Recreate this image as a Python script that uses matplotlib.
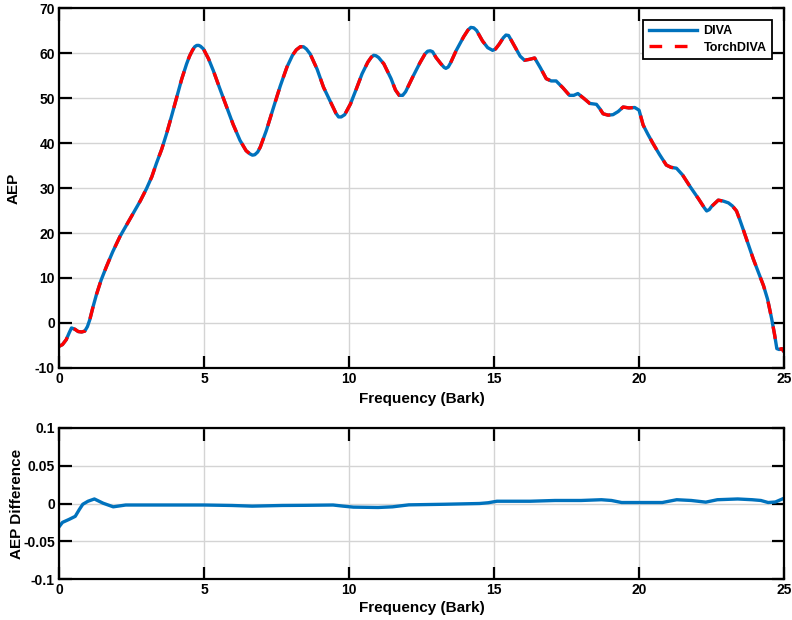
import matplotlib
matplotlib.use("Agg")
import matplotlib.pyplot as plt

plt.rcParams['font.family'] = ['Liberation Sans', 'DejaVu Sans']
plt.rcParams['font.weight'] = 'bold'
plt.rcParams['axes.unicode_minus'] = False

# AEP curve (Bark, AEP)
bark = [0.0, 0.12, 0.25, 0.35, 0.43, 0.55, 0.66, 0.78, 0.89, 0.98, 1.06, 1.17,
        1.29, 1.45, 1.64, 1.85, 2.1, 2.33, 2.56, 2.8, 3.02, 3.2, 3.36, 3.54,
        3.71, 3.89, 4.06, 4.23, 4.4, 4.5, 4.6, 4.68, 4.75, 4.82, 4.88, 4.98, 5.15,
        5.32, 5.55, 5.78, 6.0, 6.24, 6.45, 6.58, 6.67, 6.75, 6.85, 6.94, 7.15,
        7.4, 7.63, 7.86, 8.05, 8.18, 8.32, 8.43, 8.53, 8.66, 8.9, 9.12, 9.4,
        9.55, 9.64, 9.73, 9.85, 10.05, 10.25, 10.45, 10.65, 10.77, 10.85, 10.93,
        11.02, 11.2, 11.45, 11.6, 11.73, 11.85, 11.95, 12.19, 12.45, 12.62, 12.71,
        12.8, 12.88, 13.0, 13.17, 13.28, 13.34, 13.42, 13.5, 13.69, 13.95, 14.1,
        14.2, 14.3, 14.4, 14.6, 14.78, 14.95, 15.05, 15.18, 15.32, 15.41, 15.5,
        15.58, 15.76, 15.9, 16.05, 16.22, 16.4, 16.6, 16.8, 16.97, 17.14, 17.37,
        17.6, 17.75, 17.89, 18.1, 18.3, 18.42, 18.53, 18.65, 18.76, 18.93, 19.1,
        19.28, 19.45, 19.65, 19.85, 20.0, 20.14, 20.3, 20.48, 20.7, 20.94, 21.1,
        21.29, 21.5, 21.75, 22.05, 22.25, 22.33, 22.42, 22.5, 22.73, 22.9, 23.08,
        23.22, 23.36, 23.47, 23.59, 23.77, 23.94, 24.1, 24.29, 24.43, 24.57,
        24.67, 24.75, 24.83, 24.92, 25.0]
aep = [-5.2, -4.8, -3.7, -2.2, -1.1, -1.4, -1.9, -2.0, -1.8, -0.8, 0.7, 3.5,
       6.3, 9.5, 12.6, 15.8, 19.2, 21.8, 24.4, 27.1, 29.9, 32.5, 35.5, 38.6,
       42.1, 46.2, 50.2, 54.2, 57.6, 59.3, 60.6, 61.4, 61.7, 61.7, 61.5, 60.9,
       58.8, 56.1, 52.0, 48.0, 44.2, 40.6, 38.3, 37.6, 37.3, 37.4, 38.0, 39.1,
       42.8, 48.0, 52.7, 56.9, 59.5, 60.7, 61.4, 61.4, 60.9, 59.8, 56.4, 52.4,
       48.6, 46.6, 45.8, 45.8, 46.3, 48.7, 52.0, 55.4, 58.0, 59.1, 59.5, 59.4,
       59.0, 57.6, 54.3, 51.8, 50.6, 50.6, 51.4, 54.6, 57.9, 59.8, 60.4, 60.5,
       60.3, 59.0, 57.6, 56.8, 56.6, 56.9, 57.8, 60.5, 63.6, 65.1, 65.7, 65.6,
       65.0, 62.7, 61.2, 60.6, 60.9, 62.0, 63.4, 64.0, 63.9, 63.0, 60.9, 59.3,
       58.4, 58.6, 58.9, 56.7, 54.3, 53.8, 53.8, 52.3, 50.6, 50.6, 51.0, 49.9,
       48.8, 48.7, 48.6, 47.6, 46.5, 46.2, 46.3, 47.0, 48.0, 47.8, 47.9, 47.3,
       44.0, 42.0, 39.9, 37.5, 35.1, 34.6, 34.4, 32.9, 30.4, 27.6, 25.6, 24.9,
       25.2, 25.9, 27.3, 27.1, 26.7, 26.0, 24.9, 23.0, 20.8, 17.4, 14.2, 11.5,
       8.3, 5.3, 1.0, -2.5, -5.7, -5.9, -5.7, -6.4]

# difference curve (Bark, AEP difference)
bark_diff = [0.0, 0.12, 0.35, 0.56, 0.7, 0.82, 1.0, 1.22, 1.52, 1.87, 2.3, 3.0,
             4.0, 5.0, 5.96, 6.66, 7.7, 8.5, 9.45, 9.8, 10.15, 11.0, 11.5, 12.06,
             13.3, 14.5, 14.8, 15.1, 16.25, 17.1, 18.0, 18.7, 19.05, 19.4, 20.25,
             20.8, 21.3, 21.8, 22.3, 22.7, 23.4, 23.9, 24.2, 24.45, 24.7, 25.0]
aep_diff = [-0.031, -0.025, -0.021, -0.017, -0.008, -0.001, 0.003, 0.006, 0.0004,
            -0.0044, -0.002, -0.002, -0.002, -0.002, -0.0026, -0.0035, -0.0026,
            -0.0024, -0.002, -0.0035, -0.0048, -0.0053, -0.0044, -0.0018, -0.001,
            0.0, 0.001, 0.003, 0.003, 0.004, 0.004, 0.005, 0.004, 0.0013, 0.0013,
            0.0013, 0.005, 0.004, 0.0018, 0.005, 0.006, 0.005, 0.004, 0.0013,
            0.002, 0.007]

x_ticks = [0, 5, 10, 15, 20, 25]
y_ticks_top = [-10, 0, 10, 20, 30, 40, 50, 60, 70]
y_ticks_bot = [-0.1, -0.05, 0, 0.05, 0.1]
y_labels_bot = ['-0.1', '-0.05', '0', '0.05', '0.1']

blue = (0.0, 0.447, 0.741)
red = (1.0, 0.0, 0.0)


def matlab_axes(ax):
    for s in ax.spines.values():
        s.set_linewidth(1.6)
        s.set_color('black')
        s.set_zorder(5)
    ax.tick_params(direction='in', length=9, width=1.6, top=True, right=True,
                   labelsize=10, pad=3)
    ax.grid(True, color='#d4d4d4', linewidth=1.0)
    ax.set_axisbelow(True)
    for lab in ax.get_xticklabels() + ax.get_yticklabels():
        lab.set_fontweight('bold')


fig = plt.figure(figsize=(7.92, 6.2), dpi=100)
ax1 = fig.add_axes([0.0745, 0.4065, 0.9155, 0.5805])
ax2 = fig.add_axes([0.0745, 0.0661, 0.9155, 0.2436])

ax1.plot(bark, aep, color=blue, linewidth=2.4, label='DIVA')
ax1.plot(bark, aep, color=red, linewidth=2.4, linestyle=(0, (3.8, 3.8)),
         label='TorchDIVA')
ax1.set_xlim(0, 25)
ax1.set_ylim(-10, 70)
ax1.set_xticks(x_ticks)
ax1.set_yticks(y_ticks_top)
ax1.set_xlabel('Frequency (Bark)', fontsize=11, fontweight='bold', labelpad=4)
ax1.set_ylabel('AEP', fontsize=11, fontweight='bold', labelpad=10)
matlab_axes(ax1)
leg = ax1.legend(loc='upper right', bbox_to_anchor=(0.983, 0.967),
                 prop={'size': 9, 'weight': 'bold'}, fancybox=False,
                 framealpha=1, edgecolor='black', handlelength=3.9,
                 borderpad=0.42, labelspacing=0.35, handletextpad=0.5,
                 borderaxespad=0)
leg.get_frame().set_linewidth(1.3)

ax2.plot(bark_diff, aep_diff, color=blue, linewidth=2.4)
ax2.set_xlim(0, 25)
ax2.set_ylim(-0.1, 0.1)
ax2.set_xticks(x_ticks)
ax2.set_yticks(y_ticks_bot)
ax2.set_yticklabels(y_labels_bot)
ax2.set_xlabel('Frequency (Bark)', fontsize=11, fontweight='bold', labelpad=3)
ax2.set_ylabel('AEP Difference', fontsize=11, fontweight='bold', labelpad=-1)
matlab_axes(ax2)

fig.savefig('out.png', dpi=100)
